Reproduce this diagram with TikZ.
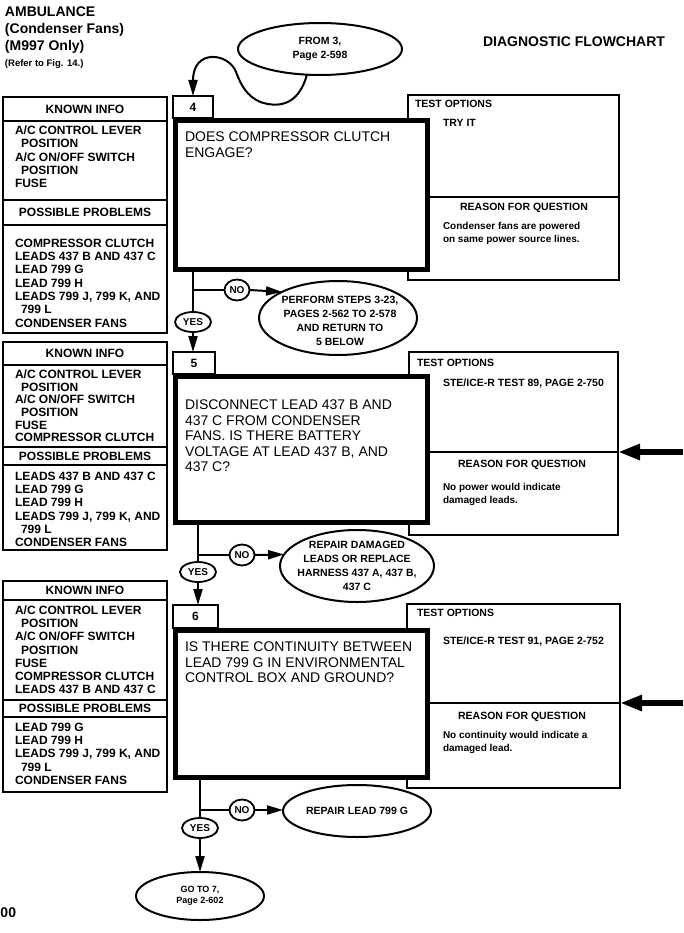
\documentclass[tikz,border=0pt]{standalone}
\usepackage{fontspec}
\setmainfont{Liberation Sans}
\usetikzlibrary{arrows.meta,shapes.geometric}
\newcommand\fHead{\fontsize{14}{17}\selectfont\bfseries}
\newcommand\fRef{\fontsize{9.5}{11}\selectfont\bfseries}
\newcommand\fQ{\fontsize{14}{15.5}\selectfont}
\newcommand\fLeft{\fontsize{12}{13.3}\selectfont\bfseries}
\newcommand\fLeftB{\fontsize{12}{12.6}\selectfont\bfseries}
\newcommand\fLeftC{\fontsize{12}{13.1}\selectfont\bfseries}
\newcommand\fSm{\fontsize{10.5}{13}\selectfont\bfseries}
\newcommand\fRs{\fontsize{10}{13.5}\selectfont\bfseries}
\newcommand\fEl{\fontsize{10.5}{14}\selectfont\bfseries}
\newcommand\fGo{\fontsize{9}{11}\selectfont\bfseries}
\newcommand\fYN{\fontsize{10}{12}\selectfont\bfseries}
\newcommand\fNum{\fontsize{12}{14}\selectfont\bfseries}
\begin{document}
\begin{tikzpicture}[x=1pt,y=-1pt,
  every node/.style={inner sep=0pt, outer sep=0pt},
  lbox/.style={draw, line width=1.5pt, anchor=north west, fill=white, minimum width=164pt, font=\fLeft},
  ltext/.style={anchor=north west, align=left, font=\fLeft},
  tbox/.style={draw, line width=2pt, anchor=north west, fill=white},
  qbox/.style={draw, line width=5pt, anchor=north west, fill=white, minimum width=252pt},
  nbox/.style={draw, line width=1.5pt, anchor=north west, fill=white, font=\fNum},
  qtext/.style={anchor=north west, align=left, font=\fQ},
  oval/.style={draw, ellipse, line width=2pt, fill=white},
  otext/.style={align=center, font=\fEl},
  yn/.style={draw, ellipse, line width=1.8pt, fill=white, font=\fYN, minimum width=36pt, minimum height=20pt},
  nocirc/.style={draw, ellipse, line width=1.8pt, fill=white, font=\fYN, minimum width=25pt, minimum height=21pt},
  conn/.style={line width=2pt},
  arr/.style={line width=2pt, -{Triangle[length=16pt,width=9pt]}},
  bigarr/.style={line width=5.5pt, -{Triangle[length=22pt,width=15pt]}},
  smhead/.style={anchor=base west, font=\fSm},
  smtext/.style={anchor=base west, font=\fSm},
  rshead/.style={anchor=base, font=\fSm},
  rstext/.style={anchor=north west, align=left, font=\fRs}
]
\path[fill=white] (0,0) rectangle (683,933);
\useasboundingbox (0,0) rectangle (683,933);

% ---------- header ----------
\node[anchor=base west, font=\fHead] (h1) at (5,17) {AMBULANCE};
\node[anchor=base west, font=\fHead] (h2) at (5,34) {(Condenser Fans)};
\node[anchor=base west, font=\fHead] (h3) at (5,51) {(M997 Only)};
\node[anchor=base west, font=\fRef] (h4) at (5,67) {(Refer to Fig. 14.)};
\node[anchor=base west, font=\fHead] (title) at (483,47) {DIAGNOSTIC FLOWCHART};
\node[anchor=base west, font=\fHead] (pg) at (0.5,917) {00};

% ---------- left box 1 ----------
\node[lbox, minimum height=24pt] (kh1) at (3,97) {KNOWN INFO};
\node[lbox, minimum height=79pt] (kt1) at (3,121) {};
\node[lbox, minimum height=25pt] (ph1) at (3,200) {POSSIBLE PROBLEMS};
\node[lbox, minimum height=108pt] (pt1) at (3,225) {};
\node[ltext] (kt1t) at (15,126) {A/C CONTROL LEVER\\\hspace*{6pt}POSITION\\A/C ON/OFF SWITCH\\\hspace*{6pt}POSITION\\FUSE};
\node[ltext] (pt1t) at (15,239) {COMPRESSOR CLUTCH\\LEADS 437 B AND 437 C\\LEAD 799 G\\LEAD 799 H\\LEADS 799 J, 799 K, AND\\\hspace*{6pt}799 L\\CONDENSER FANS};

% ---------- left box 2 ----------
\node[lbox, minimum height=23pt] (kh2) at (3,342) {KNOWN INFO};
\node[lbox, minimum height=82pt] (kt2) at (3,365) {};
\node[lbox, minimum height=18pt] (ph2) at (3,447) {POSSIBLE PROBLEMS};
\node[lbox, minimum height=85pt] (pt2) at (3,465) {};
\node[ltext, font=\fLeftB] (kt2t) at (15,370) {A/C CONTROL LEVER\\\hspace*{6pt}POSITION\\A/C ON/OFF SWITCH\\\hspace*{6pt}POSITION\\FUSE\\COMPRESSOR CLUTCH};
\node[ltext] (pt2t) at (15,472) {LEADS 437 B AND 437 C\\LEAD 799 G\\LEAD 799 H\\LEADS 799 J, 799 K, AND\\\hspace*{6pt}799 L\\CONDENSER FANS};

% ---------- left box 3 ----------
\node[lbox, minimum height=19pt] (kh3) at (3,581) {KNOWN INFO};
\node[lbox, minimum height=100pt] (kt3) at (3,600) {};
\node[lbox, minimum height=17pt] (ph3) at (3,700) {POSSIBLE PROBLEMS};
\node[lbox, minimum height=75pt] (pt3) at (3,717) {};
\node[ltext, font=\fLeftC] (kt3t) at (15,606) {A/C CONTROL LEVER\\\hspace*{6pt}POSITION\\A/C ON/OFF SWITCH\\\hspace*{6pt}POSITION\\FUSE\\COMPRESSOR CLUTCH\\LEADS 437 B AND 437 C};
\node[ltext] (pt3t) at (15,723) {LEAD 799 G\\LEAD 799 H\\LEADS 799 J, 799 K, AND\\\hspace*{6pt}799 L\\CONDENSER FANS};

% ---------- step 4 ----------
\node[tbox, minimum width=211pt, minimum height=102pt] (to4) at (408,95) {};
\node[tbox, minimum width=211pt, minimum height=83pt] (re4) at (408,197) {};
\node[qbox, minimum height=149pt] (main4) at (175.5,120.5) {};
\node[nbox, minimum width=40pt, minimum height=22pt] (num4) at (173,96) {4};
\node[qtext] (q4) at (185,132) {DOES COMPRESSOR CLUTCH\\ENGAGE?};
\node[smhead] (to4h) at (415,108) {TEST OPTIONS};
\node[smtext] (to4t) at (443,127) {TRY IT};
\node[rshead] (re4h) at (524,211) {REASON FOR QUESTION};
\node[rstext] (re4t) at (443,222) {Condenser fans are powered\\on same power source lines.};

% ---------- step 5 ----------
\node[tbox, minimum width=209pt, minimum height=100pt] (to5) at (409,352) {};
\node[tbox, minimum width=209pt, minimum height=83pt] (re5) at (409,452) {};
\node[qbox, minimum height=146pt] (main5) at (175.5,376.5) {};
\node[nbox, minimum width=42pt, minimum height=22pt] (num5) at (173,352) {5};
\node[qtext] (q5) at (185,400) {DISCONNECT LEAD 437 B AND\\437 C FROM CONDENSER\\FANS. IS THERE BATTERY\\VOLTAGE AT LEAD 437 B, AND\\437 C?};
\node[smhead] (to5h) at (417,366) {TEST OPTIONS};
\node[smtext] (to5t) at (443,386) {STE/ICE-R TEST 89, PAGE 2-750};
\node[rshead] (re5h) at (522,467) {REASON FOR QUESTION};
\node[rstext] (re5t) at (443,483) {No power would indicate\\damaged leads.};

% ---------- step 6 ----------
\node[tbox, minimum width=213pt, minimum height=99pt] (to6) at (407,604) {};
\node[tbox, minimum width=213pt, minimum height=85pt] (re6) at (407,703) {};
\node[qbox, minimum height=147pt] (main6) at (175.5,630.5) {};
\node[nbox, minimum width=45pt, minimum height=23pt] (num6) at (173,605) {6};
\node[qtext] (q6) at (185,642) {IS THERE CONTINUITY BETWEEN\\LEAD 799 G IN ENVIRONMENTAL\\CONTROL BOX AND GROUND?};
\node[smhead] (to6h) at (417,616) {TEST OPTIONS};
\node[smtext] (to6t) at (443,644) {STE/ICE-R TEST 91, PAGE 2-752};
\node[rshead] (re6h) at (522,719) {REASON FOR QUESTION};
\node[rstext] (re6t) at (443,731) {No continuity would indicate a\\damaged lead.};

% ---------- right-hand arrows ----------
\coordinate (in5) at (683,452);
\coordinate (in6) at (683,703);
\draw[bigarr] (in5) -- (to5.south east);
\draw[bigarr] (in6) -- (to6.south east);

% ---------- ovals ----------
\node[oval, minimum width=164pt, minimum height=52pt, font=\fEl, align=center] (from3) at (320,49) {FROM 3,\\Page 2-598};
\node[oval, minimum width=158pt, minimum height=74pt] (perf) at (338,318) {};
\node[otext, anchor=center] (perft) at (340,321) {PERFORM STEPS 3-23,\\PAGES 2-562 TO 2-578\\AND RETURN TO\\5 BELOW};
\node[oval, minimum width=154pt, minimum height=72pt] (rep5) at (357,566) {};
\node[otext] (rep5t) at (rep5.center) {REPAIR DAMAGED\\LEADS OR REPLACE\\HARNESS 437 A, 437 B,\\437 C};
\node[oval, minimum width=148pt, minimum height=52pt, font=\fEl] (rl) at (357,811) {REPAIR  LEAD 799 G};
\node[oval, minimum width=128pt, minimum height=48pt, font=\fGo, align=center] (go7) at (200,896) {GO TO 7,\\Page 2-602};

% ---------- yes / no ----------
\node[nocirc] (no4) at (237,290) {NO};
\node[yn] (yes4) at (193,322) {YES};
\node[nocirc] (no5) at (242,555) {NO};
\node[yn] (yes5) at (198,572) {YES};
\node[nocirc] (no6) at (242,810) {NO};
\node[yn] (yes6) at (200,828) {YES};
\coordinate (j4) at (193,290);
\coordinate (j5) at (198,555);
\coordinate (j6) at (200,810);

% ---------- connectors ----------
\draw[arr] (from3.-117) .. controls (300,100) and (285,107) .. (268,104)
   .. controls (250,101) and (242,88) .. (236,72)
   .. controls (229,53) and (193,48) .. (num4.north);

\draw[conn] (main4.south -| yes4.center) -- (yes4.north);
\draw[conn] (j4) -- (no4.west);
\draw[arr] (no4.east) -- (perf.155);
\draw[arr] (yes4.south) -- (yes4.south |- num5.north);

\draw[conn] (main5.south -| yes5.center) -- (yes5.north);
\draw[conn] (j5) -- (no5.west);
\draw[arr] (no5.east) -- (rep5.171);
\draw[arr] (yes5.south) -- (yes5.south |- num6.north);

\draw[conn] (main6.south -| yes6.center) -- (yes6.north);
\draw[conn] (j6) -- (no6.west);
\draw[arr] (no6.east) -- (no6.east -| rl.west);
\draw[arr] (yes6.south) -- (go7.north);
\end{tikzpicture}
\end{document}
